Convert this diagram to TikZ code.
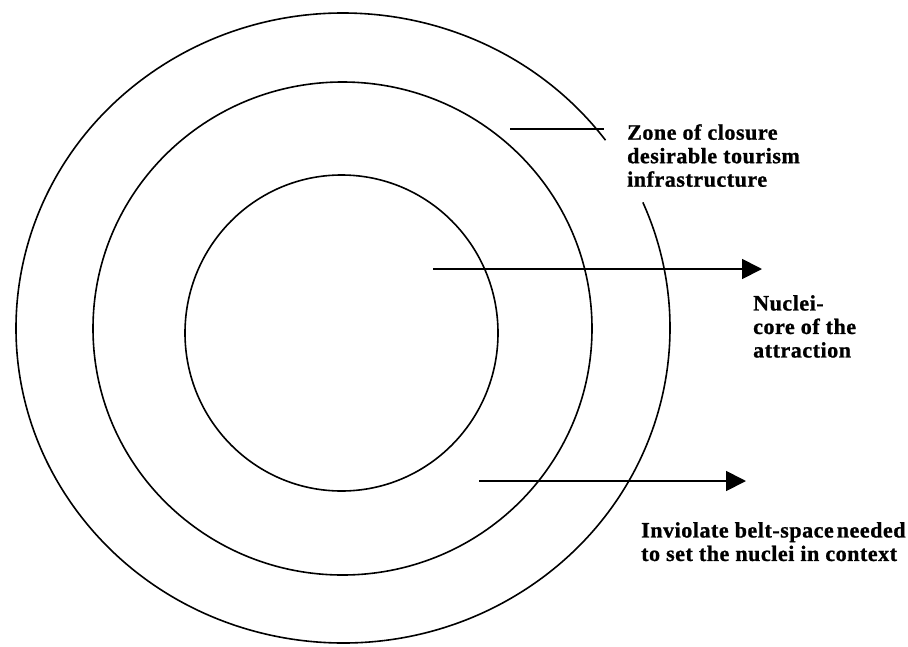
\documentclass[tikz,border=0pt]{standalone}
\usepackage{fontspec}
\setmainfont{Liberation Serif}
\newfontfamily\lblfont{Liberation Serif}[LetterSpace=2.5, BoldFeatures={FakeBold=1}]
\usetikzlibrary{shapes.geometric,arrows.meta}
\tikzset{
  ring/.style={draw, ellipse, line width=1.6pt, inner sep=0pt},
  lbl/.style={anchor=north west, inner sep=0pt, align=left,
    font=\lblfont\bfseries\fontsize{22pt}{23.5pt}\selectfont},
  pointer/.style={line width=1.8pt, -{Triangle[length=20pt,width=20pt]}},
  leader/.style={line width=1.8pt},
}
\begin{document}
\begin{tikzpicture}[x=1pt,y=-1pt]
\useasboundingbox (0,0) rectangle (908,646);
\fill[white] (0,0) rectangle (908,646);
% outer ring with a gap near the label
\coordinate (c) at (343,328);
\draw[line width=1.6pt] ([shift={(36.6:327pt and 315pt)}]c)
  arc[start angle=36.6, end angle=383.5, x radius=327pt, y radius=315pt];
% inner rings
\node[ring, minimum width=313pt, minimum height=316pt] (nucleus) at (341.5,333) {};
\node[ring, minimum width=499pt, minimum height=493pt] (belt) at (342.5,328.5) {};
% labels
\node[lbl] (zone) at (627,124) {Zone of closure\\desirable tourism\\infrastructure};
\node[lbl] (nuc) at (753,295) {Nuclei-\\core of the\\attraction};
\node[lbl] (inv) at (641,522) {Inviolate belt-space\hspace{3pt}needed\\to set the nuclei in context};
% connectors
\coordinate (zoneS) at (510,129);
\coordinate (zoneE) at (604,129);
\draw[leader] (zoneS) -- (zoneE);
\coordinate (a1s) at (433,269);
\coordinate (a1e) at (762,269);
\draw[pointer] (a1s) -- (a1e);
\coordinate (a2s) at (479,481);
\coordinate (a2e) at (746,481);
\draw[pointer] (a2s) -- (a2e);
\end{tikzpicture}
\end{document}
